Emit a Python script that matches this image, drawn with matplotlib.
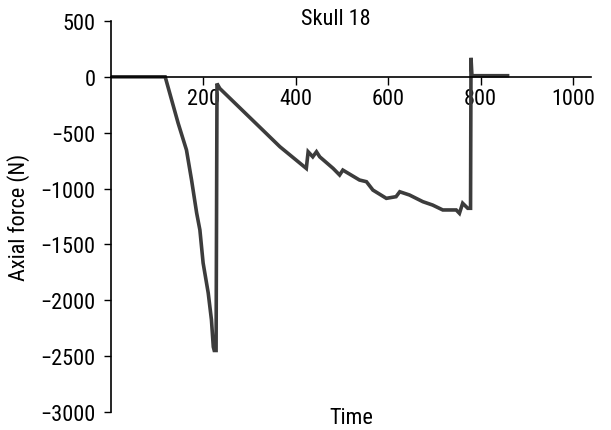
import matplotlib
matplotlib.use("Agg")
import matplotlib.pyplot as plt

# force trace (time, axial force in N)
time = [0, 118, 132, 146, 164, 175, 186, 193, 200, 211, 218, 222, 224,
        228, 230, 236, 322, 366, 423, 427, 437, 445, 452, 481, 495, 502,
        538, 553, 567, 596, 617, 625, 646, 675, 696, 718, 747, 754, 761,
        772, 778, 779, 781, 858]
force = [0, 0, -208, -415, -655, -924, -1219, -1371, -1667, -1935, -2176,
         -2418, -2450, -2450, -60, -104, -449, -626, -820, -671, -716, -671,
         -716, -820, -879, -835, -924, -939, -1014, -1088, -1073, -1029,
         -1058, -1118, -1148, -1192, -1192, -1222, -1132, -1177, -1177, 170,
         10, 10]

xticks = [200, 400, 600, 800, 1000]
yticks = [500, 0, -500, -1000, -1500, -2000, -2500, -3000]

plt.rcParams['font.family'] = ['Roboto Condensed', 'Liberation Sans Narrow', 'DejaVu Sans']
plt.rcParams['font.stretch'] = 'condensed'

fig = plt.figure(figsize=(6.11, 4.31), dpi=100)
ax = fig.add_axes([0.181, 0.042, 0.786, 0.907])

ax.plot(time, force, color='#3c3c3c', lw=2.6, solid_joinstyle='miter')

ax.set_xlim(0, 1038)
ax.set_ylim(-3000, 500)

ax.spines['top'].set_visible(False)
ax.spines['right'].set_visible(False)
ax.spines['bottom'].set_position(('data', 0))
ax.spines['left'].set_linewidth(1.2)
ax.spines['bottom'].set_linewidth(1.2)

ax.set_xticks(xticks)
ax.set_yticks(yticks)
ax.set_yticklabels(['\u2212' + str(-v) if v < 0 else str(v) for v in yticks])
ax.tick_params(axis='x', direction='out', length=6, width=1, labelsize=16, pad=2)
ax.tick_params(axis='y', direction='out', length=5, width=1, labelsize=16, pad=6)

ax.set_title('Skull 18', fontsize=16, x=0.47, y=0.985, pad=2)
ax.set_ylabel('Axial force (N)', fontsize=16, labelpad=7)
fig.text(0.575, 0.03, 'Time', fontsize=16, ha='center', va='center')

fig.savefig('out.png', dpi=100)
